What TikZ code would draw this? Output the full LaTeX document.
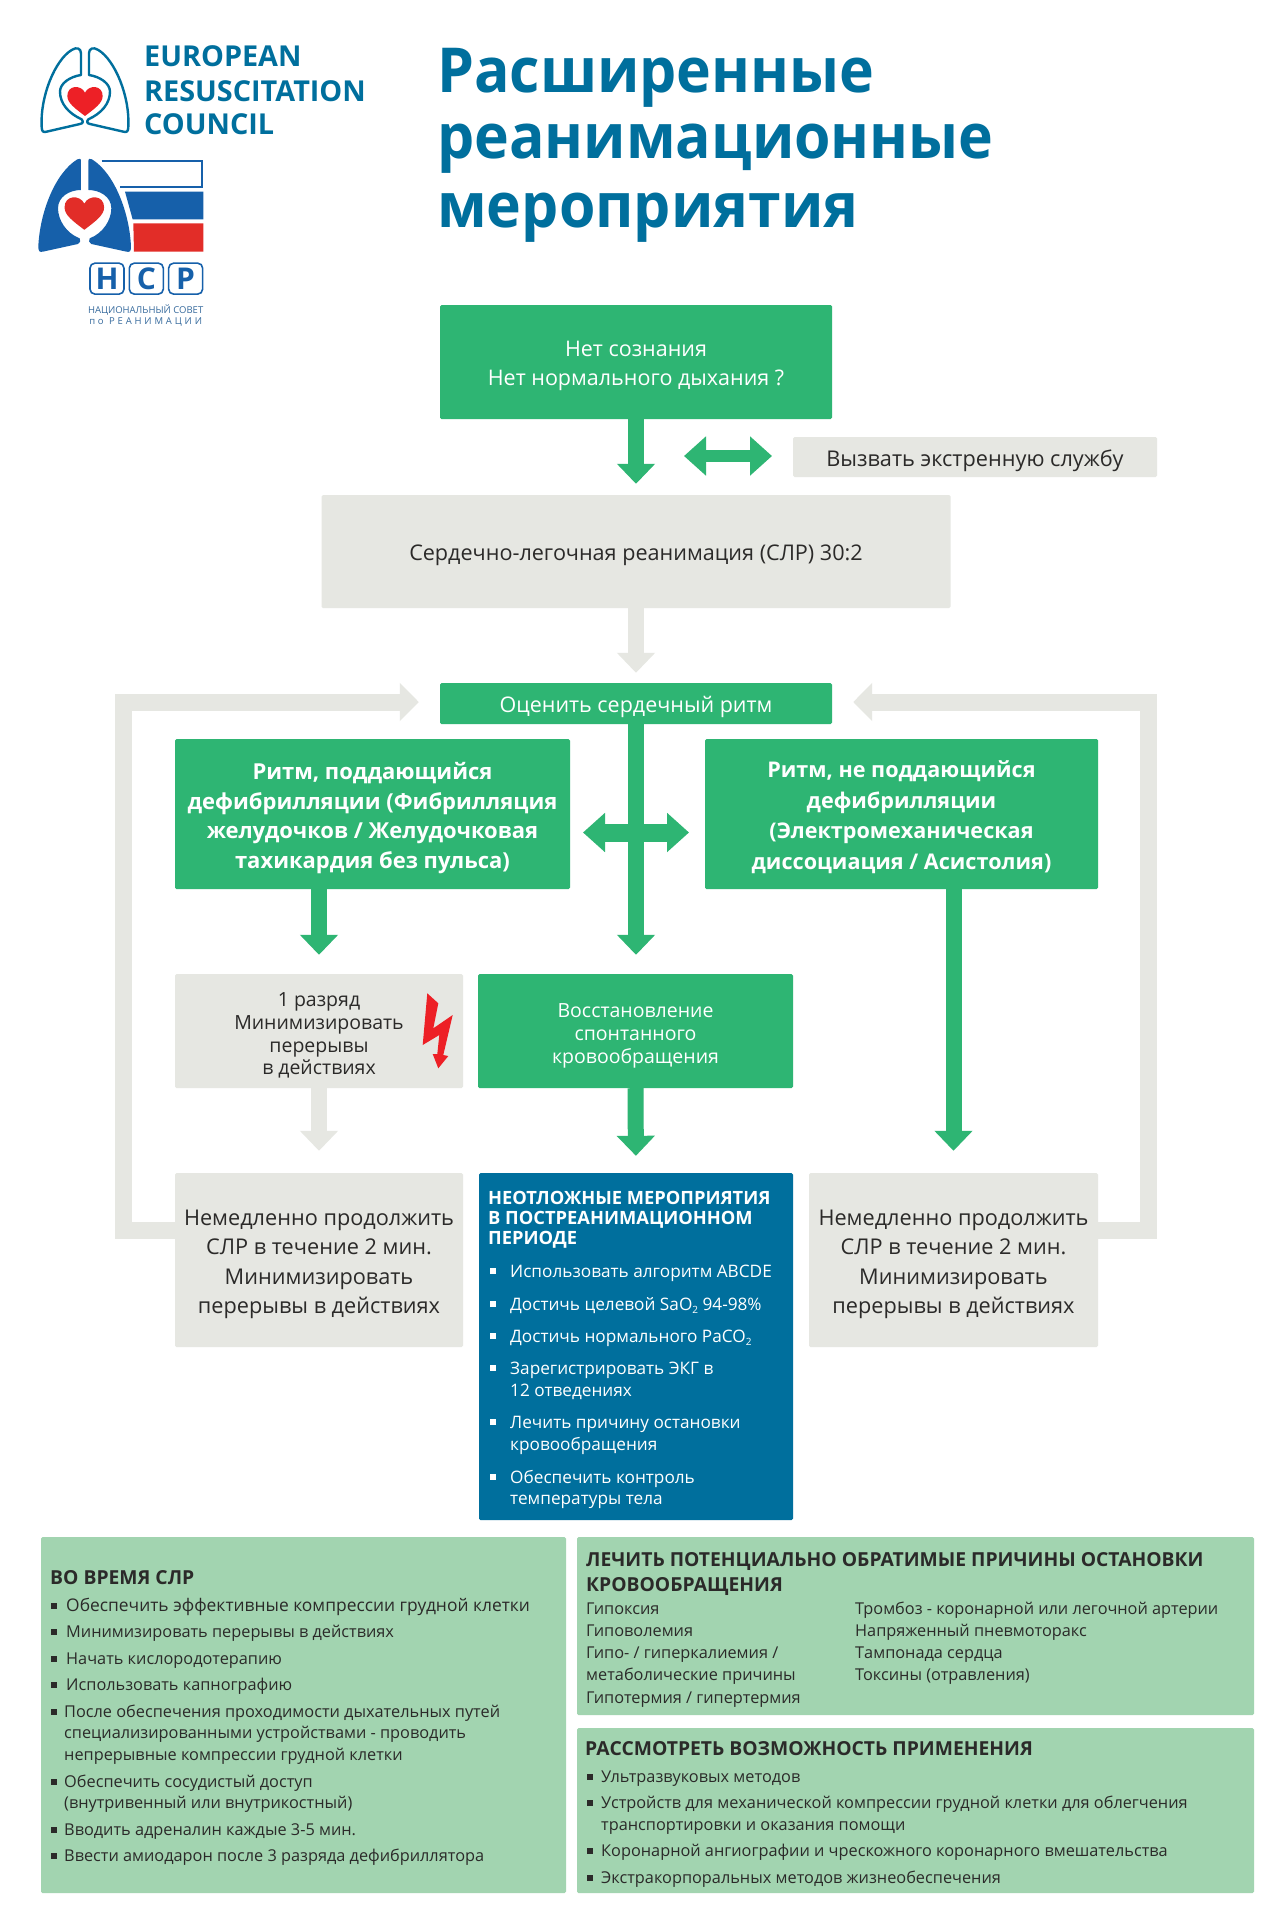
\documentclass[tikz,border=0pt]{standalone}
\usepackage{fontspec}
\setmainfont{Open Sans}
\usetikzlibrary{calc,arrows.meta}

\definecolor{ercgreen}{RGB}{46,181,115}
\definecolor{ercgray}{RGB}{230,231,226}
\definecolor{ercblue}{RGB}{0,111,157}
\definecolor{ercpanel}{RGB}{162,212,176}
\definecolor{ercink}{RGB}{43,42,41}
\definecolor{ercred}{RGB}{237,32,38}
\definecolor{nsrblue}{RGB}{22,96,170}
\definecolor{nsrred}{RGB}{226,45,40}

\newcommand{\fsize}[2]{\fontsize{#1}{#2}\selectfont}
\newcommand{\subtwo}{\raisebox{-3pt}{\fontsize{10}{10}\selectfont 2}}
\newcommand{\heartpath}{(0,45) .. controls (-30,22) and (-53,6) .. (-53,-15) .. controls (-53,-48) and (-12,-50) .. (0,-25) .. controls (12,-50) and (53,-48) .. (53,-15) .. controls (53,6) and (30,22) .. (0,45) -- cycle}

\tikzset{
  box/.style={inner sep=0pt, rounded corners=1.5pt, align=center},
  toppad/.style={execute at begin node={\rule{0pt}{#1}}},
  greenbox/.style={box, fill=ercgreen, text=white},
  graybox/.style={box, fill=ercgray, text=ercink},
  flow/.style={line width=16pt, -{Triangle[length=20pt,width=37pt]}},
  swap/.style={{Triangle[length=22pt,width=38pt]}-{Triangle[length=22pt,width=38pt]}, draw=ercgreen},
  loopback/.style={draw=ercgray, line width=17pt, -{Triangle[length=19pt,width=37pt]}},
  line/.style={anchor=base west, inner sep=0pt},
  head/.style={line, font=\fsize{19.3}{24}\bfseries},
  bullet/.style={fill=#1, minimum size=6pt, inner sep=0pt}
}

\begin{document}
\begin{tikzpicture}[x=1pt,y=-1pt]
  \useasboundingbox[fill=white] (0,0) rectangle (1270,1920);

  % logos
  \begin{scope}[shift={(20,20)},x=0.3333pt,y=-0.3333pt]
    \foreach \side in {1,-1}
    {
    \draw[ercblue, line width=2.4pt, line join=round, shift={(195,0)}, xscale=\side]
      (-12,165) -- (-12,100) .. controls (-12,85) and (-25,80) .. (-40,90)
      .. controls (-90,120) and (-135,230) .. (-130,320)
      .. controls (-130,335) and (-125,338) .. (-115,335) -- (-15,312)
      .. controls (-5,310) and (-5,305) .. (-10,298)
      .. controls (-50,280) and (-75,250) .. (-75,215)
      .. controls (-75,190) and (-45,170) .. (-12,165) -- cycle;
    \fill[nsrblue, shift={(194,0)}, xscale=\side]
      (-11,510) -- (-11,425) .. controls (-11,415) and (-15,415) .. (-22,418)
      .. controls (-90,460) and (-135,580) .. (-139,680)
      .. controls (-139,695) and (-135,697) .. (-125,695) -- (-20,672)
      .. controls (-12,670) and (-12,660) .. (-15,655)
      .. controls (-55,640) and (-80,600) .. (-80,565)
      .. controls (-80,530) and (-45,510) .. (-11,510) -- cycle;
    }
    \fill[ercred, shift={(195,243)}] \heartpath;
    \fill[nsrred, shift={(193,579)}, scale=1.12] \heartpath;
    \draw[nsrblue, line width=1.8pt] (245,422) -- (547,422) -- (547,500) -- (300,500);
    \fill[nsrblue] (315,515) -- (550,515) -- (550,598) -- (338,598) -- cycle;
    \fill[nsrred] (340,610) -- (550,610) -- (550,695) -- (342,695) -- cycle;
    \foreach \letter/\xc in {Н/261,С/379,Р/497}
    {
    \node[draw=nsrblue, line width=1.6pt, rounded corners=5pt, minimum width=34pt, minimum height=31pt,
      inner sep=0pt, text=nsrblue, font=\fsize{30}{30}\bfseries] (nsr\xc) at (\xc,776) {\letter};
    }
    \node[text=nsrblue!70!gray, font=\fsize{9.5}{10}, inner sep=0pt] (nsrtop) at (377,870) {НАЦИОНАЛЬНЫЙ СОВЕТ};
    \node[text=nsrblue!70!gray, font=\fsize{9.5}{10}\addfontfeature{LetterSpace=30}, inner sep=0pt] (nsrbot) at (377,905) {по РЕАНИМАЦИИ};
  \end{scope}
  \foreach \y/\word in {56/EUROPEAN,91/RESUSCITATION,124/COUNCIL}
  {
  \node[anchor=west, inner sep=0pt, text=ercblue, font=\fsize{28.8}{28}\bfseries] (erc\y) at (144,\y) {\word};
  }

  % title
  \foreach \y/\word in {92/Расширенные,158/реанимационные,227/мероприятия}
  {
  \node[line, text=ercblue, font=\fsize{62}{62}\bfseries\addfontfeature{FakeStretch=0.95}] (title\y) at (437,\y) {\word};
  }

  % flow boxes
  \node[greenbox, toppad=53pt, minimum width=392pt, minimum height=114pt, font=\fsize{21.5}{29.3}] (nosign) at (636,362) {Нет сознания\\Нет нормального дыхания ?};
  \node[graybox, toppad=23.5pt, minimum width=364pt, minimum height=40pt, font=\fsize{21.7}{30}] (callems) at (975,457) {Вызвать экстренную службу};
  \node[graybox, toppad=23.5pt, minimum width=629pt, minimum height=113pt, font=\fsize{21.6}{30}] (cpr) at (636,551.5) {Сердечно-легочная реанимация (СЛР) 30:2};
  \node[greenbox, toppad=23.5pt, minimum width=392pt, minimum height=41pt, font=\fsize{21.5}{30}] (assess) at (636,703.5) {Оценить сердечный ритм};
  \node[greenbox, toppad=113.5pt, minimum width=395pt, minimum height=150pt, font=\fsize{22}{29.5}\bfseries] (shockable) at (372.5,814) {Ритм, поддающийся\\дефибрилляции (Фибрилляция\\желудочков / Желудочковая\\тахикардия без пульса)};
  \node[greenbox, toppad=114.5pt, minimum width=393pt, minimum height=150pt, font=\fsize{21.6}{30.5}\bfseries] (nonshock) at (901.5,814) {Ритм, не поддающийся\\дефибрилляции\\(Электромеханическая\\диссоциация / Асистолия)};
  \node[graybox, toppad=91.4pt, minimum width=288pt, minimum height=114pt, font=\fsize{19.5}{22.8}] (shock) at (319,1031) {1 разряд\\Минимизировать\\перерывы\\в действиях};
  \node[greenbox, toppad=69pt, minimum width=315pt, minimum height=114pt, font=\fsize{19.5}{23}] (rosc) at (635.5,1031) {Восстановление\\спонтанного\\кровообращения};
  \node[graybox, toppad=112.2pt, minimum width=288pt, minimum height=174pt, font=\fsize{21.7}{29.4}] (contleft) at (319,1260) {Немедленно продолжить\\СЛР в течение 2 мин.\\Минимизировать\\перерывы в действиях};
  \node[fill=ercblue, rounded corners=1.5pt, minimum width=314pt, minimum height=347pt, inner sep=0pt] (postcare) at (636,1346.5) {};
  \node[graybox, toppad=112.2pt, minimum width=289pt, minimum height=174pt, font=\fsize{21.7}{29.4}] (contright) at (953.5,1260) {Немедленно продолжить\\СЛР в течение 2 мин.\\Минимизировать\\перерывы в действиях};

  \fill[ercred] (427.3,993.3) -- (438.3,1003.3) -- (433.3,1028.3) -- (452.7,1015) -- (443.3,1055) -- (448.3,1056) -- (438.3,1068.3) -- (432.7,1054) -- (437.3,1054) -- (439.3,1035) -- (422.7,1045) -- cycle;

  % connectors
  \coordinate (loopla) at (123.5,1230);
  \coordinate (looplb) at (123.5,702);
  \coordinate (loopra) at (1148.5,1230);
  \coordinate (looprb) at (1148.5,702);
  \coordinate (callw) at (684,456);
  \coordinate (calle) at (772,456);
  \coordinate (splitw) at (583,832.5);
  \coordinate (splite) at (689,832.5);

  \draw[flow, draw=ercgreen, shorten >=11pt] (nosign.south) -- (cpr.north);
  \draw[flow, draw=ercgray, shorten >=10pt] (cpr.south) -- (assess.north);
  \draw[flow, draw=ercgreen, shorten >=19pt] (assess.south) -- (rosc.north -| assess.south);
  \draw[flow, draw=ercgreen, shorten >=19pt] (shockable.south -| shock.north) -- (shock.north);
  \draw[flow, draw=ercgreen, shorten >=22pt] (nonshock.south -| contright.north) -- (contright.north);
  \draw[flow, draw=ercgray, shorten >=22pt] (shock.south) -- (contleft.north);
  \draw[flow, draw=ercgreen, shorten >=17pt] (rosc.south) -- (postcare.north);
  \draw[swap, line width=12pt] (callw) -- (calle);
  \draw[swap, line width=18pt] (splitw) -- (splite);
  \draw[loopback, shorten >=21pt] (loopla -| contleft.west) -- (loopla) -- (looplb) -- (looplb -| assess.west);
  \draw[loopback, shorten >=21pt] (loopra -| contright.east) -- (loopra) -- (looprb) -- (looprb -| assess.east);

  % post resuscitation care
  \foreach \y/\word in {1204/НЕОТЛОЖНЫЕ МЕРОПРИЯТИЯ,1224/В ПОСТРЕАНИМАЦИОННОМ,1244/ПЕРИОДЕ}
  {
  \node[head, text=white, font=\fsize{18.3}{20}\bfseries] (care\y) at (488,\y) {\word};
  }
  \foreach \y/\word in {1277/Использовать алгоритм ABCDE,1310/{Достичь целевой SaO\subtwo{} 94-98\%},1342/{Достичь нормального PaCO\subtwo},1374/Зарегистрировать ЭКГ в,1396/12 отведениях,1428/Лечить причину остановки,1450/кровообращения,1483/Обеспечить контроль,1504/температуры тела}
  {
  \node[line, text=white, font=\fsize{17.2}{20}] (cared\y) at (510,\y) {\word};
  }
  \foreach \y in {1271,1304,1336,1368,1422,1477}
  {
  \node[bullet=white] (careb\y) at (492.5,\y) {};
  }

  % bottom panels
  \fill[ercpanel, rounded corners=1.5pt] (41,1537) rectangle (566,1893);
  \fill[ercpanel, rounded corners=1.5pt] (577,1537) rectangle (1254,1715);
  \fill[ercpanel, rounded corners=1.5pt] (577,1728) rectangle (1254,1893);

  \node[head, text=ercink] (during) at (50,1584) {ВО ВРЕМЯ СЛР};
  \foreach \y/\xx/\word in {1611/66/{\fsize{17.4}{20}Обеспечить эффективные компрессии грудной клетки},1637/66/Минимизировать перерывы в действиях,1664/66/Начать кислородотерапию,1690/66/Использовать капнографию,1717/64/После обеспечения проходимости дыхательных путей,1738/64/специализированными устройствами - проводить,1760/64/непрерывные компрессии грудной клетки,1787/64/Обеспечить сосудистый доступ,1808/64/(внутривенный или внутрикостный),1835/64/Вводить адреналин каждые 3-5 мин.,1861/64/Ввести амиодарон после 3 разряда дефибриллятора}
  {
  \node[line, text=ercink, font=\fsize{16.3}{20}] (during\y) at (\xx,\y) {\word};
  }
  \foreach \y in {1606,1632,1659,1685,1712,1782,1830,1856}
  {
  \node[bullet=ercink] (duringb\y) at (53.5,\y) {};
  }

  \node[head, text=ercink] (treat1) at (586,1566) {ЛЕЧИТЬ ПОТЕНЦИАЛЬНО ОБРАТИМЫЕ ПРИЧИНЫ ОСТАНОВКИ};
  \node[head, text=ercink] (treat2) at (586,1591) {КРОВООБРАЩЕНИЯ};
  \foreach \y/\word in {1614/Гипоксия,1636/Гиповолемия,1658/{Гипо- / гиперкалиемия /},1680/метаболические причины,1703/{Гипотермия / гипертермия}}
  {
  \node[line, text=ercink, font=\fsize{16.3}{20}] (cola\y) at (586,\y) {\word};
  }
  \foreach \y/\word in {1614/Тромбоз - коронарной или легочной артерии,1636/Напряженный пневмоторакс,1658/Тампонада сердца,1680/Токсины (отравления)}
  {
  \node[line, text=ercink, font=\fsize{16.3}{20}] (colb\y) at (855,\y) {\word};
  }

  \node[head, text=ercink] (consider) at (585,1755) {РАССМОТРЕТЬ ВОЗМОЖНОСТЬ ПРИМЕНЕНИЯ};
  \foreach \y/\word in {1782/Ультразвуковых методов,1808/Устройств для механической компрессии грудной клетки для облегчения,1830/транспортировки и оказания помощи,1856/Коронарной ангиографии и чрескожного коронарного вмешательства,1883/Экстракорпоральных методов жизнеобеспечения}
  {
  \node[line, text=ercink, font=\fsize{16.3}{20}] (cons\y) at (601,\y) {\word};
  }
  \foreach \y in {1777,1803,1851,1878}
  {
  \node[bullet=ercink] (consb\y) at (589.5,\y) {};
  }
\end{tikzpicture}
\end{document}
